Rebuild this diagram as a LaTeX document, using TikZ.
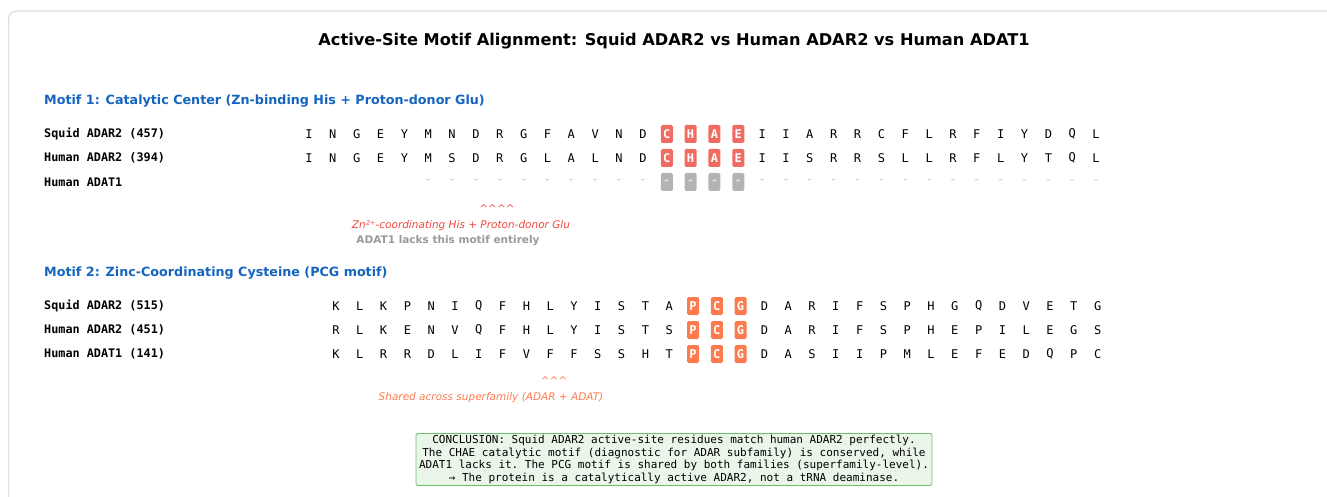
\documentclass[tikz,border=0pt]{standalone}
\usepackage{fontspec}
\setmainfont{DejaVu Sans}
\setmonofont{DejaVu Sans Mono}
\usepackage{tikz}
\usepackage{xcolor}

\definecolor{motifblue}{HTML}{1565C0}
\definecolor{chaered}{HTML}{F06B61}
\definecolor{annotred}{HTML}{F2463C}
\definecolor{pcgorange}{HTML}{FF7A4D}
\definecolor{gapgray}{HTML}{B3B3B3}
\definecolor{notegray}{HTML}{999999}
\definecolor{concfill}{HTML}{EAF6EA}
\definecolor{concline}{HTML}{6CC06C}
\definecolor{framegray}{HTML}{DDDDDD}

\begin{document}
\begin{tikzpicture}[
    x=1pt, y=-1pt,
    header/.style={font=\bfseries\fontsize{16.2}{19}\selectfont},
    motif/.style={anchor=west, inner xsep=0pt, text=motifblue, font=\bfseries\fontsize{12.7}{15}\selectfont},
    seqname/.style={anchor=west, inner xsep=0pt, font=\ttfamily\bfseries\fontsize{11.8}{14}\selectfont},
    res/.style={inner sep=0pt, font=\ttfamily\fontsize{12}{14}\selectfont},
    gap/.style={res, text=gapgray!80},
    hl/.style={res, rounded corners=1.5pt, minimum width=12pt, minimum height=18pt,
               text=white, font=\ttfamily\bfseries\fontsize{12}{14}\selectfont},
    hlred/.style={hl, fill=chaered},
    hlorange/.style={hl, fill=pcgorange},
    hlgap/.style={hl, fill=gapgray, text=gray!25},
    note/.style={font=\itshape\fontsize{10.5}{12}\selectfont},
    concl/.style={draw=concline, fill=concfill, rounded corners=2pt, line width=0.8pt,
                  align=center, inner xsep=3pt, inner ysep=2pt,
                  font=\ttfamily\fontsize{11}{12.4}\selectfont}
]
    \useasboundingbox (0,0) rectangle (1327,497);
    \draw[framegray, line width=1.3pt, rounded corners=8pt] (8.5,11) rectangle (1360,530);

    \node[header] (title) at (674,41) {Active-Site Motif Alignment: Squid ADAR2 vs Human ADAR2 vs Human ADAT1};

    % motif 1
    \node[motif] (m1) at (44,101) {Motif 1: Catalytic Center (Zn-binding His + Proton-donor Glu)};
    \node[seqname] (sq1) at (44,134) {Squid ADAR2 (457)};
    \node[seqname] (hu1) at (44,158) {Human ADAR2 (394)};
    \node[seqname] (ad1) at (44,182) {Human ADAT1};

    \foreach \r [count=\i from 0] in {I,N,G,E,Y,M,N,D,R,G,F,A,V,N,D,C,H,A,E,I,I,A,R,R,C,F,L,R,F,I,Y,D,Q,L}{
        \ifnum\i<15 \def\st{res}\else\ifnum\i<19 \def\st{hlred}\else\def\st{res}\fi\fi
        \node[\st] (sq1-\i) at ({309+23.85*\i},134) {\r};
    }
    \foreach \r [count=\i from 0] in {I,N,G,E,Y,M,S,D,R,G,L,A,L,N,D,C,H,A,E,I,I,S,R,R,S,L,L,R,F,L,Y,T,Q,L}{
        \ifnum\i<15 \def\st{res}\else\ifnum\i<19 \def\st{hlred}\else\def\st{res}\fi\fi
        \node[\st] (hu1-\i) at ({309+23.85*\i},158) {\r};
    }
    \foreach \i in {5,...,33}{
        \ifnum\i<15 \def\st{gap}\else\ifnum\i<19 \def\st{hlgap}\else\def\st{gap}\fi\fi
        \node[\st] (ad1-\i) at ({309+23.85*\i},182) {-};
    }

    \node[note, text=annotred] (caret1) at (497,209)
        {\textasciicircum\textasciicircum\textasciicircum\textasciicircum};
    \node[note, text=annotred] (zn) at (461,226) {Zn²⁺-coordinating His + Proton-donor Glu};
    \node[font=\bfseries\fontsize{10.5}{12}\selectfont, text=notegray] (lack) at (448,241)
        {ADAT1 lacks this motif entirely};

    % motif 2
    \node[motif] (m2) at (44,273) {Motif 2: Zinc-Coordinating Cysteine (PCG motif)};
    \node[seqname] (sq2) at (44,306) {Squid ADAR2 (515)};
    \node[seqname] (hu2) at (44,330) {Human ADAR2 (451)};
    \node[seqname] (ad2) at (44,354) {Human ADAT1 (141)};

    \foreach \r [count=\i from 0] in {K,L,K,P,N,I,Q,F,H,L,Y,I,S,T,A,P,C,G,D,A,R,I,F,S,P,H,G,Q,D,V,E,T,G}{
        \ifnum\i<15 \def\st{res}\else\ifnum\i<18 \def\st{hlorange}\else\def\st{res}\fi\fi
        \node[\st] (sq2-\i) at ({336+23.8*\i},306) {\r};
    }
    \foreach \r [count=\i from 0] in {R,L,K,E,N,V,Q,F,H,L,Y,I,S,T,S,P,C,G,D,A,R,I,F,S,P,H,E,P,I,L,E,G,S}{
        \ifnum\i<15 \def\st{res}\else\ifnum\i<18 \def\st{hlorange}\else\def\st{res}\fi\fi
        \node[\st] (hu2-\i) at ({336+23.8*\i},330) {\r};
    }
    \foreach \r [count=\i from 0] in {K,L,R,R,D,L,I,F,V,F,F,S,S,H,T,P,C,G,D,A,S,I,I,P,M,L,E,F,E,D,Q,P,C}{
        \ifnum\i<15 \def\st{res}\else\ifnum\i<18 \def\st{hlorange}\else\def\st{res}\fi\fi
        \node[\st] (ad2-\i) at ({336+23.8*\i},354) {\r};
    }

    \node[note, text=pcgorange] (caret2) at (554,381)
        {\textasciicircum\textasciicircum\textasciicircum};
    \node[note, text=pcgorange] (shared) at (491,398) {Shared across superfamily (ADAR + ADAT)};

    \node[concl] (concl) at (674,459.5)
        {CONCLUSION: Squid ADAR2 active-site residues match human ADAR2 perfectly.\\
         The CHAE catalytic motif (diagnostic for ADAR subfamily) is conserved, while\\
         ADAT1 lacks it. The PCG motif is shared by both families (superfamily-level).\\
         → The protein is a catalytically active ADAR2, not a tRNA deaminase.};
\end{tikzpicture}
\end{document}
